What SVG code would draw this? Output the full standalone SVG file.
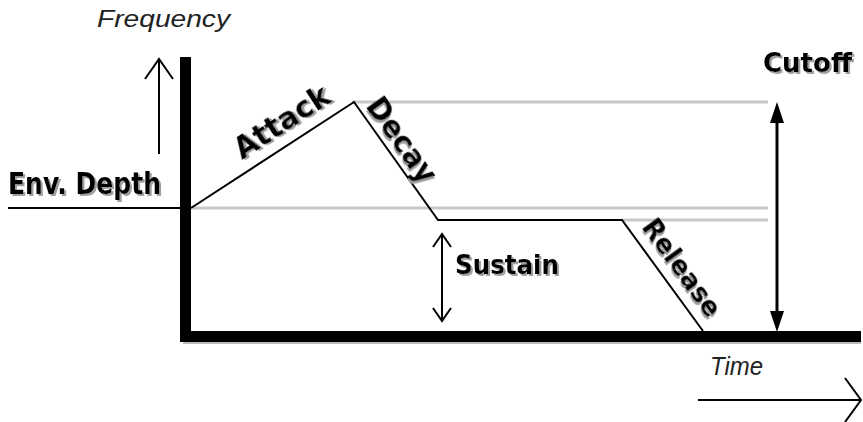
<svg xmlns="http://www.w3.org/2000/svg" width="863" height="422" viewBox="0 0 863 422">
<defs>
<style>
.lbl{font-family:"DejaVu Sans","Liberation Sans",sans-serif;font-weight:bold;fill:#000;filter:url(#shadow);}
.ax{font-family:"Liberation Sans","DejaVu Sans",sans-serif;font-style:italic;fill:#222;}
.guide{stroke:#c8c8c8;stroke-width:3;fill:none;}
.env{stroke:#000;stroke-width:2;fill:none;}
.thin{stroke:#000;stroke-width:2;fill:none;}
</style>
<filter id="shadow" x="-20%" y="-30%" width="140%" height="170%">
<feOffset in="SourceAlpha" dx="2" dy="2" result="off"/>
<feFlood flood-color="#a0a0a0"/>
<feComposite in2="off" operator="in" result="sh"/>
<feMerge><feMergeNode in="sh"/><feMergeNode in="SourceGraphic"/></feMerge>
</filter>
</defs>
<rect width="863" height="422" fill="#fff"/>
<g id="guides">
<line class="guide" x1="352" y1="102" x2="768" y2="102"/>
<line class="guide" x1="191" y1="208" x2="768" y2="208"/>
<line class="guide" x1="622" y1="220" x2="768" y2="220"/>
</g>
<g id="axes">
<rect x="183" y="334" width="678" height="10" fill="#bbb"/>
<rect x="180" y="57" width="11" height="285" fill="#000"/>
<rect x="180" y="331" width="681" height="11" fill="#000"/>
</g>
<g id="connectors">
<line class="thin" x1="8" y1="208" x2="181" y2="208"/>
<polyline class="env" points="191,208 354,102 438,220 622,220 703,331"/>
<line class="thin" x1="159" y1="154" x2="159" y2="60"/>
<polyline class="thin" points="145,79 159,59 173,79"/>
<line class="thin" x1="442" y1="234" x2="442" y2="321"/>
<polyline class="thin" points="433,247 442,234 451,247"/>
<polyline class="thin" points="433,308 442,321 451,308"/>
<line x1="777" y1="122" x2="777" y2="312" stroke="#000" stroke-width="3"/>
<path d="M777,102 L784,123 L770,123 Z" fill="#000"/>
<path d="M777,332 L784,311 L770,311 Z" fill="#000"/>
<line class="thin" x1="698" y1="400" x2="860" y2="400"/>
<polyline class="thin" points="845,378 861,400 845,422"/>
</g>
<g id="frequency"><text class="ax" x="97" y="27" font-size="23" textLength="133" lengthAdjust="spacingAndGlyphs">Frequency</text></g>
<g id="time"><text class="ax" x="710" y="375" font-size="26" textLength="53" lengthAdjust="spacingAndGlyphs">Time</text></g>
<g id="env-depth">
<text class="lbl" x="8" y="194" font-size="31" textLength="153" lengthAdjust="spacingAndGlyphs">Env. Depth</text>
</g>
<g id="attack">
<text class="lbl" transform="translate(242,160) rotate(-33)" font-size="30" textLength="108" lengthAdjust="spacingAndGlyphs">Attack</text>
</g>
<g id="decay">
<text class="lbl" transform="translate(365,106) rotate(54.6)" font-size="30" textLength="98" lengthAdjust="spacingAndGlyphs">Decay</text>
</g>
<g id="sustain">
<text class="lbl" x="455" y="274" font-size="27" textLength="104" lengthAdjust="spacingAndGlyphs">Sustain</text>
</g>
<g id="release">
<text class="lbl" transform="translate(641,227) rotate(54)" font-size="26" textLength="114" lengthAdjust="spacingAndGlyphs">Release</text>
</g>
<g id="cutoff">
<text class="lbl" x="763" y="72" font-size="26" textLength="89" lengthAdjust="spacingAndGlyphs">Cutoff</text>
</g>
</svg>
